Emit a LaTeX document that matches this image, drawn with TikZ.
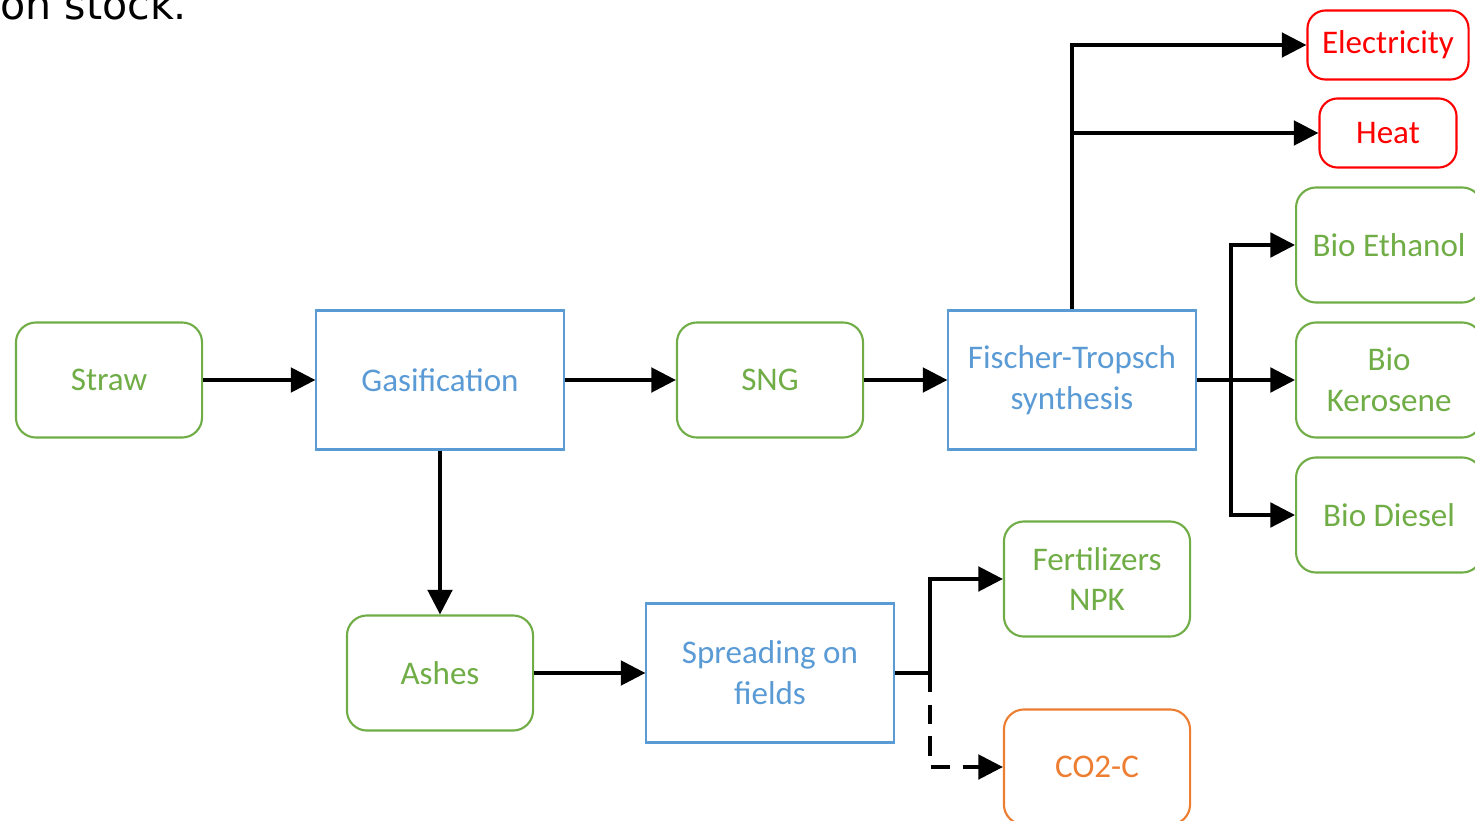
\documentclass[tikz,border=0pt]{standalone}
\usepackage{fontspec}
\setmainfont{Carlito}
\newfontfamily\notefont{DejaVu Sans}
\usetikzlibrary{arrows.meta}
\definecolor{prodgreen}{RGB}{112,173,71}
\definecolor{procblue}{RGB}{91,155,213}
\definecolor{energyred}{RGB}{255,0,0}
\definecolor{carbonorange}{RGB}{237,125,49}
\tikzset{
  product/.style = {draw=prodgreen, text=prodgreen, line width=0.6pt, rounded corners=0.2cm,
                    minimum width=1.86cm, minimum height=1.15cm, align=center},
  process/.style = {draw=procblue, text=procblue, line width=0.6pt,
                    minimum width=2.47cm, minimum height=1.39cm, align=center},
  energy/.style  = {draw=energyred, text=energyred, line width=0.6pt, rounded corners=0.18cm,
                    minimum height=0.69cm, align=center},
  flow/.style    = {line width=0.95pt, -{Triangle[length=7pt,width=7pt]}}
}
\begin{document}
\begin{tikzpicture}[x=0.01cm, y=-0.01cm, font=\fontsize{9.4pt}{11.6pt}\selectfont]
\useasboundingbox (0,0) rectangle (1475,821);
\node[anchor=base west, font=\notefont\fontsize{11.7pt}{14pt}\selectfont] (note) at (-12,19) {on stock.};

\node[product] (straw) at (109,380) {Straw};
\node[process] (gas) at (440,380) {Gasification};
\node[product] (sng) at (770,380) {SNG};
\node[process] (ft) at (1072,380) {Fischer-Tropsch\\synthesis};
\node[energy, minimum width=1.61cm] (elec) at (1388,45) {Electricity};
\node[energy, minimum width=1.37cm] (heat) at (1388,133) {Heat};
\node[product, anchor=west] (eth) at (1295,245) {Bio Ethanol};
\node[product, anchor=west] (kero) at (1295,380) {Bio\\Kerosene};
\node[product, anchor=west] (dies) at (1295,515) {Bio Diesel};
\node[product] (ash) at (440,673) {Ashes};
\node[process] (spread) at (770,673) {Spreading on\\fields};
\node[product] (fert) at (1097,579) {Fertilizers\\NPK};
\node[product, draw=carbonorange, text=carbonorange] (co2) at (1097,767) {CO2-C};

\coordinate (jh) at (ft.north |- heat.west);
\coordinate (jb) at (1231,380);
\coordinate (js) at (930,673);

\draw[flow] (straw) -- (gas);
\draw[flow] (gas) -- (sng);
\draw[flow] (sng) -- (ft);
\draw[flow] (ft.north) |- (elec);
\draw[flow] (jh) -- (heat);
\draw[flow] (ft) -- (kero);
\draw[flow] (jb) |- (eth);
\draw[flow] (jb) |- (dies);
\draw[flow] (gas) -- (ash);
\draw[flow] (ash) -- (spread);
\draw[line width=0.95pt] (spread.east) -- (js);
\draw[flow] (js) |- (fert);
\draw[flow, dash pattern=on 5.5pt off 3.5pt] (js) |- (co2);
\end{tikzpicture}
\end{document}
